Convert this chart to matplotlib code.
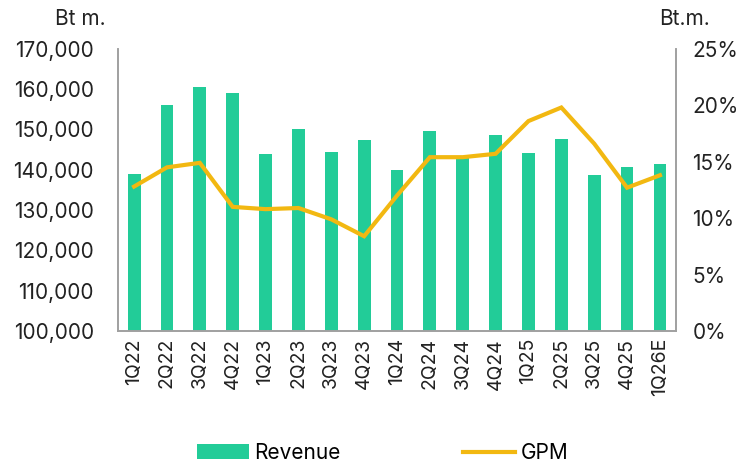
import matplotlib
matplotlib.use("Agg")
import matplotlib.pyplot as plt
from matplotlib.ticker import FuncFormatter
from matplotlib.patches import Patch
from matplotlib.lines import Line2D

quarters = ["1Q22", "2Q22", "3Q22", "4Q22", "1Q23", "2Q23", "3Q23", "4Q23", "1Q24",
            "2Q24", "3Q24", "4Q24", "1Q25", "2Q25", "3Q25", "4Q25", "1Q26E"]
revenue = [138900, 156000, 160400, 159100, 143800, 150200, 144500, 147300, 140000,
           149500, 142900, 148500, 144200, 147700, 138600, 140800, 141500]
gpm = [12.8, 14.5, 14.9, 11.0, 10.8, 10.9, 9.9, 8.4, 12.0,
       15.4, 15.4, 15.7, 18.6, 19.8, 16.6, 12.7, 13.8]

plt.rcParams['font.family'] = ['Inter', 'DejaVu Sans']
bar_color = '#22CC98'
line_color = '#F2B811'
spine_color = '#A0A0A0'
txt = '#222222'

fig = plt.figure(figsize=(7.4, 4.69), dpi=100)
ax = fig.add_axes([0.159, 0.294, 0.755, 0.602])
x = list(range(len(quarters)))
ax.bar(x, revenue, width=0.39, color=bar_color, zorder=2)
ax.set_ylim(100000, 170000)
ax.set_xlim(-0.5, len(quarters) - 0.5)
ax.set_yticks(range(100000, 170001, 10000))
ax.yaxis.set_major_formatter(FuncFormatter(lambda v, p: f"{int(v):,}"))
ax.set_xticks(x)
ax.set_xticklabels(quarters, rotation=90, fontsize=14)
ax.tick_params(axis='y', labelsize=15, length=0, pad=17, colors=txt)
ax.tick_params(axis='x', length=0, pad=5, colors=txt)

ax2 = ax.twinx()
ax2.plot(x, gpm, color=line_color, lw=3, solid_joinstyle='miter', zorder=3)
ax2.set_ylim(0, 25)
ax2.set_yticks(range(0, 26, 5))
ax2.yaxis.set_major_formatter(FuncFormatter(lambda v, p: f"{int(v)}%"))
ax2.tick_params(axis='y', labelsize=15, length=0, pad=11.5, colors=txt)

for a in (ax, ax2):
    a.spines['top'].set_visible(False)
    for s in ('left', 'right', 'bottom'):
        a.spines[s].set_color(spine_color)
        a.spines[s].set_linewidth(1.2)

fig.text(0.074, 0.96, "Bt m.", fontsize=15, ha='left', va='center', color=txt)
fig.text(0.891, 0.96, "Bt.m.", fontsize=15, ha='left', va='center', color=txt)

handles = [Patch(facecolor=bar_color, edgecolor='none'),
           Line2D([0], [0], color=line_color, lw=3)]
fig.legend(handles, ["Revenue", "GPM"], loc='center', bbox_to_anchor=(0.517, 0.034),
           ncol=2, frameon=False, handlelength=2.5, handleheight=0.75,
           columnspacing=5.9, handletextpad=0.25, prop={'size': 15})

fig.savefig("out.png", dpi=100)
